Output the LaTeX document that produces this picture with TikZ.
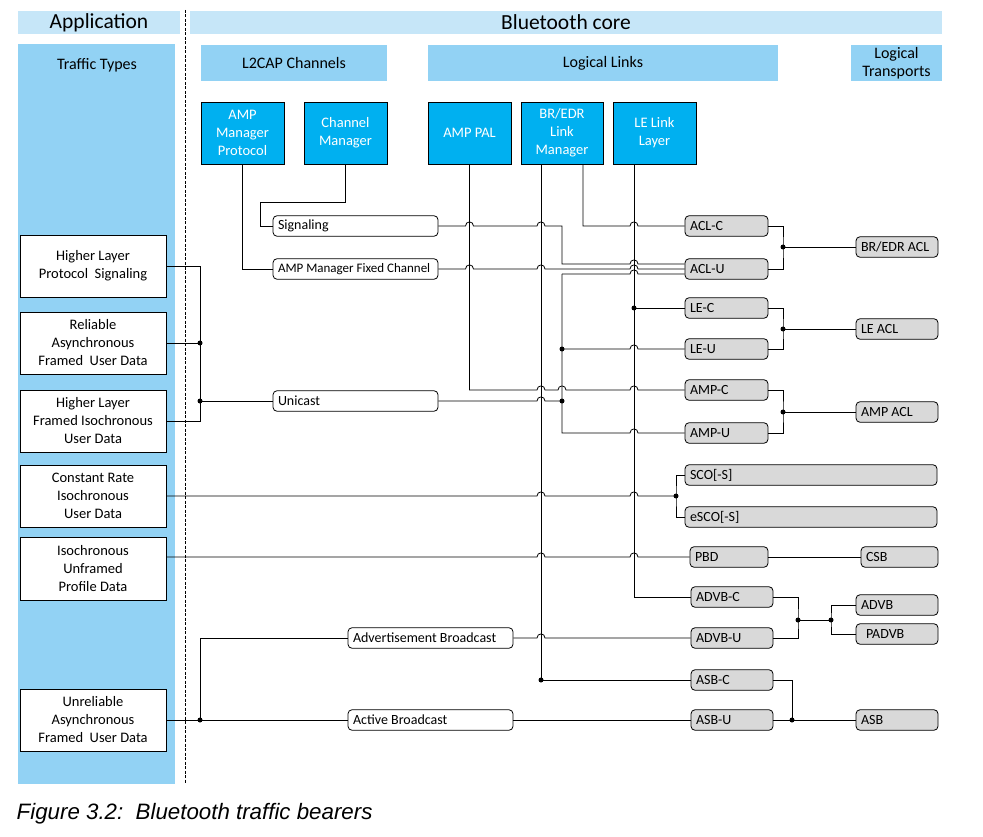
\documentclass[tikz,border=0pt]{standalone}
\usepackage{fontspec}
\setmainfont{Carlito}
\newfontfamily\capfont{Liberation Sans}
\usepackage{tikz}
\usetikzlibrary{calc,positioning}
\definecolor{hdrblue}{HTML}{C6E6F8}
\definecolor{subblue}{HTML}{92D2F4}
\definecolor{blkcyan}{HTML}{00B0F0}
\definecolor{lgray}{HTML}{D9D9D9}
\newcommand\linehop[2]{-- (#1-4,#2) .. controls (#1-4,#2-5.4) and (#1+4,#2-5.4) .. (#1+4,#2)}

\begin{document}
\begin{tikzpicture}[x=1pt,y=-1pt,line width=0.8pt,
  hdr/.style={fill=hdrblue,minimum height=23,inner sep=0,font=\fontsize{21.5}{24}\selectfont},
  sub/.style={fill=subblue,minimum height=36,inner sep=0,align=center,font=\fontsize{16}{18}\selectfont},
  blk/.style={draw,fill=blkcyan,text=white,minimum width=83,minimum height=62,inner sep=0,align=center,font=\fontsize{14.5}{18}\selectfont},
  ttype/.style={draw,fill=white,minimum width=146,minimum height=62,inner sep=0,align=center,font=\fontsize{14.5}{18}\selectfont},
  chan/.style={draw,fill=white,rounded corners=4pt,minimum height=20.5,inner xsep=5,inner ysep=0,text width=155pt,align=flush left,font=\fontsize{14}{16}\selectfont},
  link/.style={draw,fill=lgray,rounded corners=4pt,minimum height=20.5,inner xsep=5,inner ysep=0,text width=#1,align=flush left,font=\fontsize{14}{16}\selectfont},
  jdot/.style={circle,fill,inner sep=0,minimum size=5}]
\useasboundingbox (0,0) rectangle (983,837);

\fill[subblue] (18,44) rectangle (175,784);
\draw[line width=0.7pt,dash pattern=on 3pt off 1.5pt] (185.5,10) -- (185.5,784);

\node[hdr,minimum width=162] (app) at (99,22.5) {Application};
\node[hdr,minimum width=752] (core) at (566,22.5) {Bluetooth core};
\node[font=\fontsize{16}{18}\selectfont] (ttypes) at (97,65.5) {Traffic Types};
\node[sub,minimum width=186] (l2cap) at (294,63) {L2CAP Channels};
\node[sub,minimum width=350] (llinks) at (603,63) {Logical Links};
\node[sub,minimum width=91] (ltrans) at (896.5,63) {Logical\\Transports};

\node[blk] (ampmp) at (242.5,133) {AMP\\Manager\\Protocol};
\node[blk] (chmgr) at (345.5,133) {Channel\\Manager};
\node[blk] (amppal) at (469.5,133) {AMP PAL};
\node[blk,minimum width=82] (brlm) at (562,133) {BR/EDR\\Link\\Manager};
\node[blk] (lell) at (654.5,133) {LE Link\\Layer};

\node[ttype] (hlps) at (93,266) {Higher Layer\\Protocol~~Signaling};
\node[ttype] (rafud) at (93,343) {Reliable\\Asynchronous\\Framed~~User Data};
\node[ttype] (hlfiud) at (93,421) {Higher Layer\\Framed Isochronous\\User Data};
\node[ttype] (crisud) at (93,496) {Constant Rate\\Isochronous\\User Data};
\node[ttype,minimum height=63] (iupd) at (93,568.5) {Isochronous\\Unframed\\Profile Data};
\node[ttype] (uafud) at (93,720) {Unreliable\\Asynchronous\\Framed~~User Data};

\node[chan] (sig) at (355.5,226) {Signaling};
\node[chan,font=\fontsize{13}{15}\selectfont] (ampfc) at (355.5,269) {AMP Manager Fixed Channel};
\node[chan] (uni) at (355.5,401) {Unicast};
\node[chan] (adv) at (430.5,638) {Advertisement Broadcast};
\node[chan] (actb) at (430.5,720) {Active Broadcast};

\node[link=73pt] (aclc) at (726.5,226) {ACL-C};
\node[link=73pt] (aclu) at (726.5,269) {ACL-U};
\node[link=73pt] (lec) at (726.5,308) {LE-C};
\node[link=73pt] (leu) at (726.5,349) {LE-U};
\node[link=73pt] (ampc) at (726.5,390) {AMP-C};
\node[link=73pt] (ampu) at (726.5,433) {AMP-U};
\node[link=242pt] (sco) at (811,475) {SCO[-S]};
\node[link=242pt] (esco) at (811,517) {eSCO[-S]};
\node[link=68pt] (pbd) at (729,557) {PBD};
\node[link=72pt] (advbc) at (732,597) {ADVB-C};
\node[link=72pt] (advbu) at (732,638) {ADVB-U};
\node[link=72pt] (asbc) at (732,680) {ASB-C};
\node[link=72pt] (asbu) at (732,720) {ASB-U};

\node[link=72pt] (bracl) at (897,247) {BR/EDR ACL};
\node[link=72pt] (leacl) at (897,329) {LE ACL};
\node[link=72pt] (ampacl) at (897,412) {AMP ACL};
\node[link=67pt] (csb) at (899.5,557) {CSB};
\node[link=72pt] (advb) at (897,605) {ADVB};
\node[link=72pt] (padvb) at (897,634) {\hspace{5pt}PADVB};
\node[link=72pt] (asb) at (897,720) {ASB};

\node[anchor=base west,font=\capfont\itshape\fontsize{22.3}{26}\selectfont] (cap) at (13,819) {Figure 3.2:~~Bluetooth traffic bearers};

\coordinate (lb) at (200,0);
\coordinate (vpal) at (469.5,0);
\coordinate (vuni) at (562,0);
\coordinate (vbr) at (583,0);
\coordinate (vle) at (634,0);
\coordinate (tb) at (783,0);
\coordinate (ubus) at (562,274);
\coordinate (scoj) at (676,496);
\coordinate (advj) at (798,620);
\coordinate (advk) at (831,620);
\coordinate (asbj) at (792,720);

\draw (hlps.east) -| (lb |- hlfiud) -- (hlfiud.east);
\draw (rafud.east) -- (lb |- rafud) node[jdot]{};
\draw (lb |- uni) node[jdot]{} -- (uni.west);
\draw (uni.east) \linehop{541}{401} -- (vuni |- uni) node[jdot]{};

\draw (chmgr.south) |- (260,202) |- (sig.west);
\draw (ampmp.south) |- (ampfc.west);
\draw (sig.east) \linehop{469.5}{226} \linehop{541}{226} -- (562,226) -- (562,264) \linehop{634}{264} -- ($(aclu.west)+(0,-5)$);
\draw (ampfc.east) \linehop{469.5}{269} \linehop{541}{269} \linehop{634}{269} -- (aclu.west);
\draw (ubus) \linehop{634}{274} -- ($(aclu.west)+(0,5)$);
\draw (ubus) -- (vuni |- ampu) \linehop{634}{433} -- (ampu.west);
\draw (vuni |- leu) node[jdot]{} \linehop{634}{349} -- (leu.west);

\draw ($(brlm.south)+(21,0)$) -- (vbr |- aclc) \linehop{634}{226} -- (aclc.west);
\draw ($(brlm.south)+(-21,0)$) |- (asbc.west) node[pos=0.5,jdot]{};
\draw ($(lell.south)+(-20.5,0)$) |- (advbc.west);
\draw (vle |- lec) node[jdot]{} -- (lec.west);
\draw (amppal.south) -- (vpal |- ampc) \linehop{541}{390} \linehop{562}{390} \linehop{634}{390} -- (ampc.west);

\draw (aclc.east) -| (tb |- bracl) |- (aclu.east);
\draw (tb |- bracl) node[jdot]{} -- (bracl.west);
\draw (lec.east) -| (tb |- leacl) |- (leu.east);
\draw (tb |- leacl) node[jdot]{} -- (leacl.west);
\draw (ampc.east) -| (tb |- ampacl) |- (ampu.east);
\draw (tb |- ampacl) node[jdot]{} -- (ampacl.west);

\draw (crisud.east) \linehop{541}{496} \linehop{634}{496} -- (scoj) node[jdot]{};
\draw (sco.west) -| (scoj) |- (esco.west);
\draw (iupd.east |- pbd) \linehop{541}{557} \linehop{634}{557} -- (pbd.west);
\draw (pbd) -- (csb);

\draw (advbc.east) -| (advj) |- (advbu.east);
\draw (advj) node[jdot]{} -- (advk) node[jdot]{};
\draw (advb.west) -| (advk) |- (padvb.west);

\draw (lb |- actb) node[jdot]{} |- (adv.west);
\draw (uafud.east) -- (actb.west);
\draw (adv.east) \linehop{541}{638} -- (advbu.west);
\draw (actb) -- (asbu);
\draw (asbc.east) -| (asbj) node[jdot]{};
\draw (asbu) -- (asb);
\end{tikzpicture}
\end{document}
